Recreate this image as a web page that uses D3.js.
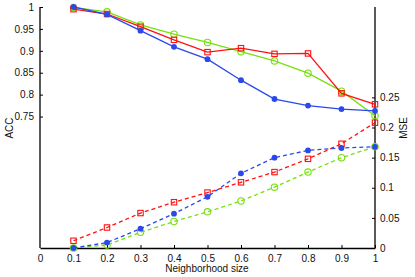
<!DOCTYPE html>
<html><head><meta charset="utf-8">
<script src="https://cdn.jsdelivr.net/npm/d3@7"></script>
<style>body{margin:0;background:#fff}svg{display:block}text{font-family:"Liberation Sans",Arial,sans-serif}</style>
</head><body><svg id="c" width="415" height="277"></svg>
<script>
const xs = [0.1,0.2,0.3,0.4,0.5,0.6,0.7,0.8,0.9,1.0];
const accBlue  = [1.000,0.983,0.946,0.909,0.881,0.833,0.790,0.775,0.767,0.763];
const accRed   = [0.995,0.984,0.955,0.925,0.897,0.906,0.893,0.894,0.803,0.778];
const accGreen = [0.999,0.989,0.959,0.938,0.919,0.898,0.877,0.849,0.808,0.752];
const mseBlue  = [0.000,0.009,0.032,0.057,0.085,0.124,0.150,0.162,0.166,0.168];
const mseRed   = [0.012,0.034,0.058,0.076,0.092,0.109,0.126,0.148,0.173,0.208];
const mseGreen = [0.000,0.005,0.026,0.044,0.060,0.078,0.101,0.126,0.150,0.168];
const xTicks = [0,0.1,0.2,0.3,0.4,0.5,0.6,0.7,0.8,0.9,1];
const accTicks = [0.75,0.8,0.85,0.9,0.95,1];
const mseTicks = [0,0.05,0.1,0.15,0.2,0.25];

const RED="#ff1010", BLUE="#2a48ec", GREEN="#77e010";
const svg = d3.select("#c");
const L=40, R=375, T=7, B=248;
const x = d3.scaleLinear().domain([0,1]).range([L,R]);
const yA = d3.scaleLinear().domain([0.45,1]).range([B,T]);
const yM = d3.scaleLinear().domain([0,0.4]).range([B,T]);

const fmt = d => d3.format("~g")(d);
const gx = svg.append("g").attr("transform",`translate(0,${B})`)
  .call(d3.axisBottom(x).tickValues(xTicks).tickFormat(fmt).tickSizeInner(-3).tickSizeOuter(0).tickPadding(7));
const gl = svg.append("g").attr("transform",`translate(${L},0)`)
  .call(d3.axisLeft(yA).tickValues(accTicks).tickFormat(fmt).tickSizeInner(-3).tickSizeOuter(0).tickPadding(6));
const gr = svg.append("g").attr("transform",`translate(${R},0)`)
  .call(d3.axisRight(yM).tickValues(mseTicks).tickFormat(fmt).tickSizeInner(-3).tickSizeOuter(0).tickPadding(5));
[gx,gl,gr].forEach(g=>{
  g.select(".domain").attr("stroke","#000").attr("stroke-width",1.3);
  g.selectAll(".tick line").attr("stroke","#000");
  g.selectAll("text").attr("font-size",10).attr("fill","#111").attr("font-family","Liberation Sans, Arial, sans-serif");
});
gx.selectAll(".tick line").filter(d=>d===0).remove();
gl.select(".domain").attr("d",`M0,${T}V${B}`);
gr.select(".domain").attr("d",`M0,${T}V${B}`);

function series(vals, y, color, dashed, marker){
  const pts = xs.map((v,i)=>[x(v), y(vals[i])]);
  svg.append("path").attr("d", d3.line()(pts)).attr("fill","none")
    .attr("stroke",color).attr("stroke-width",1.3)
    .attr("stroke-dasharray", dashed ? "4,3" : null);
  const g = svg.append("g");
  pts.forEach(p=>{
    if(marker==="square"){
      g.append("rect").attr("x",p[0]-2.7).attr("y",p[1]-2.7).attr("width",5.4).attr("height",5.4)
        .attr("fill","none").attr("stroke",color).attr("stroke-width",1.1);
    } else if(marker==="dot"){
      g.append("circle").attr("cx",p[0]).attr("cy",p[1]).attr("r",2.9).attr("fill",color);
    } else {
      g.append("circle").attr("cx",p[0]).attr("cy",p[1]).attr("r",3.2).attr("fill","none")
        .attr("stroke",color).attr("stroke-width",1.1);
    }
  });
}
series(accGreen, yA, GREEN, false, "ring");
series(accRed, yA, RED, false, "square");
series(accBlue, yA, BLUE, false, "dot");
series(mseGreen, yM, GREEN, true, "ring");
series(mseRed, yM, RED, true, "square");
series(mseBlue, yM, BLUE, true, "dot");

svg.append("text").attr("transform","translate(13,128) rotate(-90)").attr("text-anchor","middle")
  .attr("font-size",10).attr("fill","#111").text("ACC");
svg.append("text").attr("transform","translate(407,128) rotate(-90)").attr("text-anchor","middle")
  .attr("font-size",10).attr("fill","#111").text("MSE");
svg.append("text").attr("x",207).attr("y",272).attr("text-anchor","middle")
  .attr("font-size",10).attr("fill","#111").text("Neighborhood size");
</script></body></html>
